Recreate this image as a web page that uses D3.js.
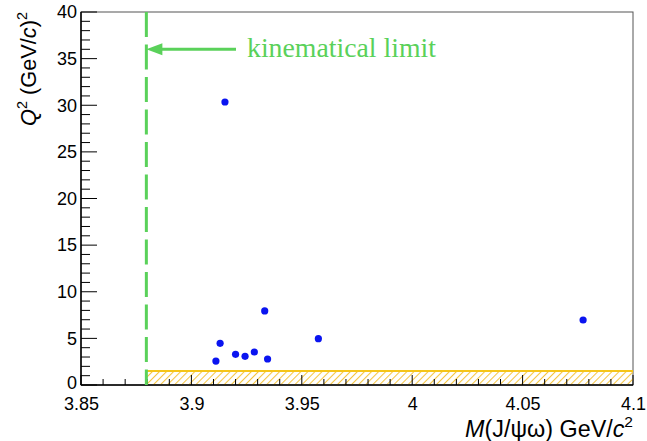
<!DOCTYPE html>
<html><head><meta charset="utf-8">
<script src="https://cdn.jsdelivr.net/npm/d3@7"></script>
<style>body{margin:0;background:#fff}svg{display:block}</style>
</head><body>
<svg id="c" width="647" height="441"></svg>
<script>
// data
const massValues = [3.9111, 3.9130, 3.9152, 3.9200, 3.9243, 3.9285, 3.9332, 3.9345, 3.9575, 4.0774];
const q2Values   = [2.57,   4.47,   30.35,  3.29,   3.07,   3.54,   7.94,   2.79,   4.97,   6.97];
const xTicks = [3.85, 3.9, 3.95, 4, 4.05, 4.1];
const xTickLabels = ["3.85", "3.9", "3.95", "4", "4.05", "4.1"];
const yTicks = [0, 5, 10, 15, 20, 25, 30, 35, 40];
const kinLimit = 3.8796;
const bandTop = 1.5;
const arrowQ2 = 36;

const svg = d3.select("#c");
const L = 81, R = 633, T = 12, B = 385;
const x = d3.scaleLinear().domain([3.85, 4.1]).range([L, R]);
const y = d3.scaleLinear().domain([0, 40]).range([B, T]);
const font = "'Liberation Sans', Arial, sans-serif";

function fitSize(sel, target) {
  const w = sel.node().getComputedTextLength();
  const s = target / w;
  sel.attr("font-size", +sel.attr("font-size") * s);
  sel.selectAll("tspan").each(function () {
    const t = d3.select(this);
    if (t.attr("font-size")) t.attr("font-size", +t.attr("font-size") * s);
    if (t.attr("dy")) t.attr("dy", +t.attr("dy") * s);
  });
}

// hatch pattern
const defs = svg.append("defs");
const pat = defs.append("pattern").attr("id", "hatch").attr("patternUnits", "userSpaceOnUse")
  .attr("width", 5).attr("height", 5).attr("patternTransform", "rotate(45)");
pat.append("line").attr("x1", 0.5).attr("y1", 0).attr("x2", 0.5).attr("y2", 5)
  .attr("stroke", "#f5c542").attr("stroke-width", 1.1);

// frame top/right
svg.append("rect").attr("x", L).attr("y", T).attr("width", R - L).attr("height", B - T)
  .attr("fill", "none").attr("stroke", "#555").attr("stroke-width", 1);

// band
svg.append("rect").attr("x", x(kinLimit)).attr("y", y(bandTop))
  .attr("width", x(4.1) - x(kinLimit)).attr("height", y(0) - y(bandTop))
  .attr("fill", "url(#hatch)");
svg.append("line").attr("x1", x(kinLimit)).attr("x2", x(4.1)).attr("y1", y(bandTop)).attr("y2", y(bandTop))
  .attr("stroke", "#f5c518").attr("stroke-width", 2);

// axes
const xAxis = d3.axisBottom(x).tickValues(xTicks).tickFormat((d, i) => xTickLabels[i]).tickSize(0).tickPadding(12);
const gx = svg.append("g").attr("transform", `translate(0,${B})`).call(xAxis);
gx.select(".domain").remove();
gx.selectAll("text").attr("font-family", font).attr("font-size", 18).attr("fill", "#000");
const xMinor = d3.range(3.85, 4.1001, 0.01);
svg.append("g").selectAll("line").data(xMinor).join("line")
  .attr("x1", d => x(d)).attr("x2", d => x(d)).attr("y1", B)
  .attr("y2", d => (Math.abs(Math.round(d * 20) - d * 20) < 1e-6) ? B - 10 : B - 6)
  .attr("stroke", "#000").attr("stroke-width", 1);

const yAxis = d3.axisLeft(y).tickValues(yTicks).tickSize(0).tickPadding(4);
const gy = svg.append("g").attr("transform", `translate(${L},0)`).call(yAxis);
gy.select(".domain").remove();
gy.selectAll("text").attr("font-family", font).attr("font-size", 18).attr("fill", "#000")
  .attr("dy", d => d === 0 ? "0.22em" : "0.32em");
const yMinor = d3.range(0, 40.01, 1);
svg.append("g").selectAll("line").data(yMinor).join("line")
  .attr("y1", d => y(d)).attr("y2", d => y(d)).attr("x1", L)
  .attr("x2", d => d % 5 === 0 ? L + 16 : L + 9)
  .attr("stroke", "#000").attr("stroke-width", 1);

svg.append("line").attr("x1", L).attr("x2", L).attr("y1", T).attr("y2", B).attr("stroke", "#000").attr("stroke-width", 1.5);
svg.append("line").attr("x1", L).attr("x2", R).attr("y1", B).attr("y2", B).attr("stroke", "#000").attr("stroke-width", 1.5);

// kinematic limit
const green = "#5ad15a";
svg.append("line").attr("x1", x(kinLimit)).attr("x2", x(kinLimit)).attr("y1", y(40)).attr("y2", y(0))
  .attr("stroke", green).attr("stroke-width", 3).attr("stroke-dasharray", "25,7.5");
// arrow
const ay = y(arrowQ2);
svg.append("line").attr("x1", x(kinLimit) + 12).attr("x2", 236).attr("y1", ay).attr("y2", ay)
  .attr("stroke", green).attr("stroke-width", 3);
svg.append("path").attr("d", `M${x(kinLimit)},${ay} L${x(kinLimit) + 16},${ay - 6} L${x(kinLimit) + 16},${ay + 6} Z`)
  .attr("fill", green);
const kt = svg.append("text").attr("x", 247).attr("y", 57).attr("font-family", "'Liberation Serif', 'Times New Roman', serif")
  .attr("font-size", 26).attr("fill", green).text("kinematical limit");
fitSize(kt, 189);

// points
svg.append("g").selectAll("circle").data(massValues).join("circle")
  .attr("cx", d => x(d)).attr("cy", (d, i) => y(q2Values[i])).attr("r", 3.6).attr("fill", "#0a14f0");

// titles
const xt = svg.append("text").attr("x", R).attr("y", 437).attr("text-anchor", "end")
  .attr("font-family", font).attr("font-size", 21).attr("fill", "#000");
xt.append("tspan").attr("font-style", "italic").text("M");
xt.append("tspan").text("(J/ψω) GeV/");
xt.append("tspan").attr("font-style", "italic").text("c");
xt.append("tspan").attr("dy", -9).attr("font-size", 14).text("2");
fitSize(xt, 168);

const yt = svg.append("text").attr("transform", `translate(36,${T}) rotate(-90)`).attr("text-anchor", "end")
  .attr("font-family", font).attr("font-size", 21).attr("fill", "#000");
yt.append("tspan").attr("font-style", "italic").text("Q");
yt.append("tspan").attr("dy", -9).attr("font-size", 14).text("2");
yt.append("tspan").attr("dy", 9).text(" (GeV/");
yt.append("tspan").attr("font-style", "italic").text("c");
yt.append("tspan").text(")");
yt.append("tspan").attr("dy", -9).attr("font-size", 14).text("2");
fitSize(yt, 114);
</script>
</body></html>
